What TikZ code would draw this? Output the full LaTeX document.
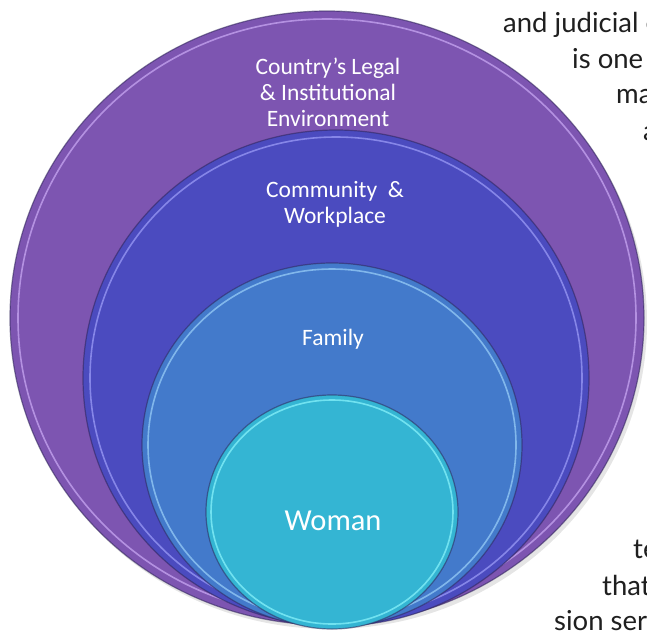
\documentclass[tikz,border=0pt]{standalone}
\usepackage{fontspec}
\setmainfont{Carlito}
\newfontfamily\bodyfont{Lato}
\definecolor{outerc}{HTML}{7D55B1}
\definecolor{outerrim}{HTML}{C7A6F2}
\definecolor{commc}{HTML}{4B4BBF}
\definecolor{commrim}{HTML}{9A9AF6}
\definecolor{famc}{HTML}{437ACB}
\definecolor{famrim}{HTML}{97CCF7}
\definecolor{womc}{HTML}{34B5D3}
\definecolor{womrim}{HTML}{86F2FA}
\definecolor{edgec}{HTML}{2E2458}
\begin{document}
\begin{tikzpicture}[x=1pt,y=-1pt,
  edge/.style={draw=edgec, draw opacity=0.55, line width=1.2pt},
  rim/.style={line width=1.6pt, draw opacity=0.75},
  lab/.style={text=white, align=center, inner sep=0pt, font=\fontsize{23.5}{26}\selectfont},
  body/.style={text=black!88, anchor=base west, inner sep=0pt, font=\bodyfont\fontsize{27.5}{36}\selectfont}]
\useasboundingbox (0,0) rectangle (647,633);
\clip (0,0) rectangle (647,633);
\fill[white] (0,0) rectangle (647,633);
% shadow
\fill[black, opacity=0.10] (330,322) ellipse [x radius=317, y radius=307];
% outer
\fill[outerc, edge] (327,318) ellipse [x radius=317, y radius=307];
\draw[outerrim, rim] (327,318) ellipse [x radius=309, y radius=299];
% community
\fill[commc, edge] (336,378) ellipse [x radius=253, y radius=248];
\draw[commrim, rim] (336,378) ellipse [x radius=246, y radius=241];
% family
\fill[famc, edge] (332,445) ellipse [x radius=190, y radius=182];
\draw[famrim, rim] (332,445) ellipse [x radius=184, y radius=176];
% woman
\fill[womc, edge] (332,512) ellipse [x radius=126, y radius=117];
\draw[womrim, rim] (332,512) ellipse [x radius=121, y radius=112];
% labels (base anchor = baseline of the last line)
\node[lab, anchor=base] (country) at (328,126) {Country’s Legal\\\& Institutional\\Environment};
\node[lab, anchor=base] (community) at (335,223) {Community\ \ \&\\Workplace};
\node[lab, anchor=base] (family) at (333,345) {Family};
\node[lab, anchor=base, font=\fontsize{30.5}{34}\selectfont] (woman) at (333,530) {Woman};
% body text at right, cut off by the page edge as in the source
\node[body] (t1) at (503,32) {and judicial e};
\node[body] (t2) at (572,68) {is one};
\node[body] (t3) at (616,103) {ma};
\node[body] (t4) at (643,140) {a};
\node[body] (t5) at (633,558) {te};
\node[body] (t6) at (602,595) {that};
\node[body] (t7) at (554,630) {sion ser};
\end{tikzpicture}
\end{document}
